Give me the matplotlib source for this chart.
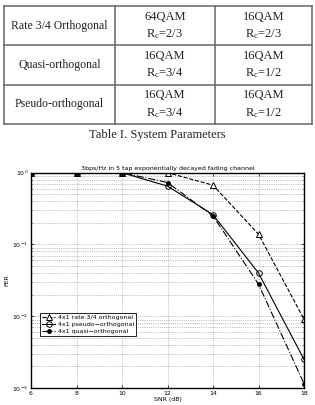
import matplotlib.pyplot as plt
import matplotlib.lines as mlines

plt.rcParams['mathtext.fontset'] = 'custom'
plt.rcParams['mathtext.rm'] = 'Liberation Serif'
plt.rcParams['mathtext.it'] = 'Liberation Serif:italic'

# table contents
row_names = ['Rate 3/4 Orthogonal', 'Quasi-orthogonal', 'Pseudo-orthogonal']
col2 = [('64QAM', '2/3'), ('16QAM', '3/4'), ('16QAM', '3/4')]
col3 = [('16QAM', '2/3'), ('16QAM', '1/2'), ('16QAM', '1/2')]
caption = 'Table I. System Parameters'

# FER curves
snr = [6, 8, 10, 12, 14, 16, 18]
fer_rate34 = [1.0, 1.0, 1.0, 1.0, 0.67, 0.139, 0.0091]
fer_pseudo = [1.0, 1.0, 1.0, 0.65, 0.26, 0.040, 0.0025]
fer_quasi = [1.0, 1.0, 1.0, 0.73, 0.25, 0.028, 0.00115]

W, H = 315, 405
fig = plt.figure(figsize=(W / 100, H / 100), dpi=100)

def fx(px):
    return px / W

def fy(py):
    return 1 - py / H

# table grid
xs = [4, 115, 215, 312]
ys = [6, 45, 85, 124]
for x in xs:
    fig.add_artist(mlines.Line2D([fx(x), fx(x)], [fy(ys[0]), fy(ys[-1])],
                                 color='#666666', lw=1.1))
for y in ys:
    fig.add_artist(mlines.Line2D([fx(xs[0]), fx(xs[-1])], [fy(y), fy(y)],
                                 color='#666666', lw=1.1))

serif = 'Liberation Serif'
for i in range(3):
    top, bot = ys[i], ys[i + 1]
    mid = (top + bot) / 2
    fig.text(fx((xs[0] + xs[1]) / 2), fy(mid), row_names[i], ha='center', va='center',
             fontsize=8.5, family=serif, color='#222222')
    for j, col in enumerate([col2, col3]):
        cx = (xs[j + 1] + xs[j + 2]) / 2
        fig.text(fx(cx), fy(mid - 9), col[i][0], ha='center', va='center',
                 fontsize=9, family=serif, color='#222222')
        fig.text(fx(cx), fy(mid + 8.5), r'R$_\mathrm{c}$=' + col[i][1], ha='center',
                 va='center', fontsize=9, family=serif, color='#222222')
fig.text(0.5, fy(135), caption, ha='center', va='center', fontsize=9,
         family=serif, color='#222222')

# plot
ax = fig.add_axes([fx(31), fy(388), fx(304) - fx(31), fy(172.7) - fy(388)])
ax.semilogy(snr, fer_rate34, 'k--^', lw=0.8, ms=4, mfc='white', mew=0.7,
            label='4x1 rate 3/4 orthogonal')
ax.semilogy(snr, fer_pseudo, 'k-o', lw=0.8, ms=4, mfc='none', mew=0.7,
            label='4x1 pseudo\u2212orthogonal')
ax.semilogy(snr, fer_quasi, 'k-.', marker='.', lw=0.8, ms=5,
            label='4x1 quasi\u2212orthogonal')
ax.set_xlim(6, 18)
ax.set_ylim(1e-3, 1)
ax.set_xticks([6, 8, 10, 12, 14, 16, 18])
ax.grid(True, which='both', color='#888888', ls=':', lw=0.5)
ax.tick_params(which='both', direction='in', labelsize=4.5, top=True, right=True,
               length=2, width=0.5, pad=2)
ax.tick_params(which='minor', length=1)
for s in ax.spines.values():
    s.set_linewidth(1.0)
ax.set_title('3bps/Hz in 5 tap exponentially decayed fading channel', fontsize=4.5, pad=2)
ax.set_xlabel('SNR (dB)', fontsize=4.5, labelpad=1)
ax.set_ylabel('FER', fontsize=4.5, labelpad=2)
leg = ax.legend(loc='lower left', bbox_to_anchor=(0.022, 0.225), fontsize=4.5,
                fancybox=False, edgecolor='black', framealpha=1, handlelength=2,
                borderpad=0.35, labelspacing=0.25, handletextpad=0.5)
leg.get_frame().set_linewidth(0.6)

fig.savefig('out.png', dpi=100)
